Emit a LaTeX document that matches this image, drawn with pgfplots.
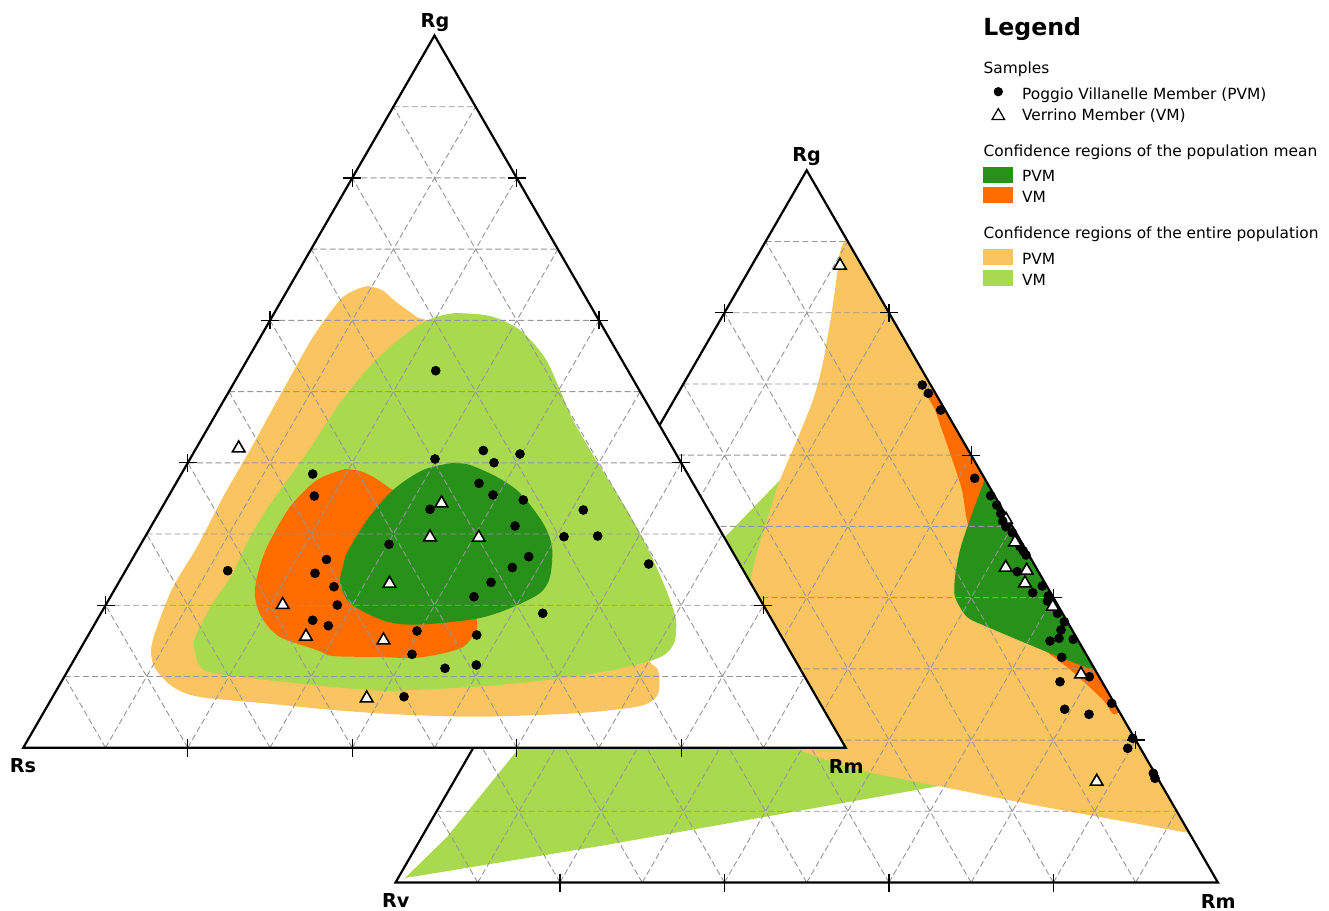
\documentclass[border=0pt]{standalone}
\usepackage{fontspec}
\setmainfont{DejaVu Sans}
\usepackage{pgfplots}
\pgfplotsset{compat=1.18}

\definecolor{pvmmean}{RGB}{40,145,25}
\definecolor{vmmean}{RGB}{255,108,0}
\definecolor{pvmpop}{RGB}{250,197,97}
\definecolor{vmpop}{RGB}{169,217,79}
\definecolor{gridc}{RGB}{150,150,150}

\newcommand{\lgf}{\fontsize{7.7}{9}\selectfont}
\newcommand{\vlf}{\fontsize{9.6}{11}\selectfont\bfseries}

% ternary grid (10 divisions) of a triangle of side 822.4 px, shifted by (#1,#2)
\newcommand{\TriGrid}[2]{%
\addplot[gridc, line width=0.45pt, dash pattern=on 3pt off 1.6pt, unbounded coords=jump,
  x filter/.expression={x+#1}, y filter/.expression={y+#2}] coordinates {
(64.42,676.48) (804.58,676.48) (nan,nan)
(105.54,605.26) (763.46,605.26) (nan,nan)
(146.66,534.04) (722.34,534.04) (nan,nan)
(187.78,462.82) (681.22,462.82) (nan,nan)
(228.9,391.6) (640.1,391.6) (nan,nan)
(270.02,320.38) (598.98,320.38) (nan,nan)
(311.14,249.16) (557.86,249.16) (nan,nan)
(352.26,177.94) (516.74,177.94) (nan,nan)
(393.38,106.72) (475.62,106.72) (nan,nan)
(105.54,747.7) (475.62,106.72) (nan,nan)
(187.78,747.7) (516.74,177.94) (nan,nan)
(270.02,747.7) (557.86,249.16) (nan,nan)
(352.26,747.7) (598.98,320.38) (nan,nan)
(434.5,747.7) (640.1,391.6) (nan,nan)
(516.74,747.7) (681.22,462.82) (nan,nan)
(598.98,747.7) (722.34,534.04) (nan,nan)
(681.22,747.7) (763.46,605.26) (nan,nan)
(763.46,747.7) (804.58,676.48) (nan,nan)
(105.54,747.7) (64.42,676.48) (nan,nan)
(187.78,747.7) (105.54,605.26) (nan,nan)
(270.02,747.7) (146.66,534.04) (nan,nan)
(352.26,747.7) (187.78,462.82) (nan,nan)
(434.5,747.7) (228.9,391.6) (nan,nan)
(516.74,747.7) (270.02,320.38) (nan,nan)
(598.98,747.7) (311.14,249.16) (nan,nan)
(681.22,747.7) (352.26,177.94) (nan,nan)
(763.46,747.7) (393.38,106.72)
};}

\newcommand{\TriFill}[2]{%
\addplot[fill=white, draw=none, x filter/.expression={x+#1}, y filter/.expression={y+#2}]
  coordinates {(23.3,747.7) (845.7,747.7) (434.5,35.5)} -- cycle;}

\newcommand{\TriFrame}[2]{%
\addplot[black, line width=1.1pt, x filter/.expression={x+#1}, y filter/.expression={y+#2}]
  coordinates {(23.3,747.7) (845.7,747.7) (434.5,35.5)} -- cycle;}

\pgfplotsset{
  dots/.style={only marks, black, mark=*, mark size=2.2pt},
  tris/.style={only marks, mark=triangle*, mark size=3.6pt,
     mark options={fill=white, draw=black, line width=0.8pt}},
  ticks/.style={only marks, black, mark=+, mark size=4.5pt, mark options={line width=0.6pt}},
}

\begin{document}
\begin{tikzpicture}
\begin{axis}[width=664.5pt, height=455.5pt, scale only axis,
  xmin=0, xmax=1329, ymin=0, ymax=911, y dir=reverse,
  hide axis, clip=false]
\path (axis cs:0,0) rectangle (axis cs:1329,911);

% ================= right triangle (Rv - Rm - Rg) =================
\TriFill{372.2}{134.8}
% VM entire population
\addplot[fill=vmpop, draw=none] coordinates {
(405,878) (447,837) (520,747) (600,665) (725,537) (782,478) (800,468)
(900,600) (950,784) (860,800) (600,846) (405,878)} -- cycle;
% PVM entire population
\addplot[fill=pvmpop, draw=none, smooth, tension=0.4] coordinates {
(845.8,238) (840,252) (835,290) (830,323) (822,367) (813,400) (797,440)
(780,480) (767,520) (755,560) (750,587) (752,620) (770,700) (790,745)
(800,750) (827,760) (873,773) (943,787) (1050,808) (1189.3,833)} -- cycle;
% VM mean
\addplot[fill=vmmean, draw=none, smooth, tension=0.4] coordinates {
(932.4,388) (926.7,394) (935,410) (942,430) (950,453) (962,490) (968,525)
(985,570) (1010,625) (1047,652) (1073,672) (1103,700) (1113,714) (1119.5,712)} -- cycle;
% PVM mean
\addplot[fill=pvmmean, draw=none, smooth, tension=0.4] coordinates {
(984.9,479) (968,525) (960,550) (955,577) (955,597) (967,617) (990,628)
(1047,652) (1095.7,671)} -- cycle;
\TriGrid{372.2}{134.8}
\TriFrame{372.2}{134.8}
% visible ticks of the right triangle
\addplot[ticks] coordinates {
(559.98,882.5) (724.46,882.5) (888.94,882.5) (1053.42,882.5)
(724.46,312.74)
(1135.66,740.06) (1053.42,597.62) (971.18,455.18) (888.94,312.74)};
\addplot[tris] coordinates {(1006,519.5)};
\addplot[dots] coordinates {
(922.3,385) (928.3,393.3) (940.7,410) (974.7,478.3) (990.7,495.7) (996.7,505)
(1000.7,513.3) (1002.7,521) (1006,526.7) (1012.3,532.7) (1020,546.7) (1023.3,551)
(1026,555) (1017.3,571.7) (1032.7,592.7) (1042.3,586) (1048.3,596) (1047.5,601)
(1057.5,613.3) (1064.3,621.7) (1061,630) (1059,638.3) (1050,641) (1073.3,639.3)
(1061.7,657.3) (1089.3,676.7) (1060,681.7) (1111.7,703.3) (1064.7,709.3)
(1089,714.3) (1132.7,738.3) (1127.7,748.3) (1153.3,773.3) (1155,778.3)};
\addplot[tris] coordinates {
(840,265.5) (1015,542.2) (1005.7,567.5) (1026.7,570.5) (1025,583.2)
(1052.7,606.5) (1081,674.2) (1096.7,781.5)};

% ================= left triangle (Rs - Rm - Rg) =================
\TriFill{0}{0}
% PVM entire population
\addplot[fill=pvmpop, draw=none, smooth, tension=0.5] coordinates {
(368,286) (382,290) (395,301) (417,317) (440,332) (550,450) (640,640) (650,662)
(657,668) (659.5,680) (657,696) (640,706) (580,713) (480,716.7) (400,714.5)
(333,710) (267,703.5) (200,697) (173,687) (155,668) (151,650) (157,627)
(173,587) (197,547) (223,497) (250,450) (283,390) (313,337) (340,300) (355,290)
(368,286)} -- cycle;
% VM entire population
\addplot[fill=vmpop, draw=none, smooth, tension=0.5] coordinates {
(455,313) (490,316) (520,330) (545,358) (560,390) (573,420) (593,455) (613,487)
(631,517) (647,547) (660,575) (670,600) (676,620) (675,640) (668,652) (653,660)
(613,670) (547,680) (480,686.5) (413,690) (380,690.7) (333,687) (267,680)
(213,673) (199,665) (194,643) (200,627) (213,603) (233,573) (250,537) (273,500)
(307,453) (340,403) (373,363) (407,333) (433,318) (455,313)} -- cycle;
% VM mean
\addplot[fill=vmmean, draw=none, smooth, tension=0.5] coordinates {
(345,469) (360,471) (375,478) (393,490) (420,502) (470,600) (477,622) (475,633)
(463,647) (440,654) (413,658) (380,657) (333,656) (317,650) (280,637) (262,618)
(255,597) (257,577) (267,547) (290,507) (317,480) (345,469)} -- cycle;
% PVM mean
\addplot[fill=pvmmean, draw=none, smooth, tension=0.5] coordinates {
(453,462.7) (470,465) (497,477) (520,493) (543,523) (552,547) (550,577) (540,593)
(513,607) (480,618) (430,624) (400,624) (377,618) (350,603) (340,583) (343,567)
(347,553) (367,520) (393,490) (423,470) (453,462.7)} -- cycle;
\TriGrid{0}{0}
\TriFrame{0}{0}
\addplot[ticks] coordinates {
(187.78,747.7) (352.26,747.7) (516.74,747.7) (681.22,747.7)
(105.54,605.26) (187.78,462.82) (270.02,320.38) (352.26,177.94)
(763.46,605.26) (681.22,462.82) (598.98,320.38) (516.74,177.94)};
\addplot[dots] coordinates {
(435.7,370.7) (483.3,450.5) (494,462.7) (520,454) (435,459) (312.7,474)
(314.3,496) (479,483.3) (493,495) (523.3,500) (430,509.3) (583.3,510) (515,526)
(564,536.7) (597.7,536) (389,544.3) (528.7,556.7) (512.3,567.5) (648.7,564)
(491,582.3) (474,596.7) (542.7,613.3) (417,631) (476.7,635) (412,654.3)
(445,668.3) (476.3,665) (404,696.7) (326.5,559.5) (315,573.3) (227.7,570.7)
(334,586.7) (337.3,605) (312.7,620.3) (328.3,625.7)};
\addplot[tris] coordinates {
(238.7,448.2) (441.5,503.2) (430,537.2) (478.7,537.5) (389.5,583.5)
(282.7,604.8) (306,636.5) (383.5,640.2) (366.7,698.2)};

% ================= vertex labels =================
\node[font=\vlf, anchor=base, inner sep=0pt] at (axis cs:435,27.3) {Rg};
\node[font=\vlf, anchor=base, inner sep=0pt] at (axis cs:23,772.3) {Rs};
\node[font=\vlf, anchor=base, inner sep=0pt] at (axis cs:846.3,773.3) {Rm};
\node[font=\vlf, anchor=base, inner sep=0pt] at (axis cs:806.7,161.7) {Rg};
\node[font=\vlf, anchor=base, inner sep=0pt] at (axis cs:395.8,907.7) {Rv};
\node[font=\vlf, anchor=base, inner sep=0pt] at (axis cs:1218.3,908.3) {Rm};

% ================= legend =================
\node[font=\fontsize{11.8}{14}\selectfont\bfseries, anchor=base west, inner sep=0pt] at (axis cs:983,35) {Legend};
\node[font=\lgf, anchor=base west, inner sep=0pt] at (axis cs:983.3,73.3) {Samples};
\addplot[only marks, black, mark=*, mark size=2.1pt] coordinates {(998.3,91.7)};
\node[font=\lgf, anchor=base west, inner sep=0pt] at (axis cs:1021.7,99.3) {Poggio Villanelle Member (PVM)};
\addplot[only marks, mark=triangle, mark size=3.6pt, mark options={draw=black, line width=0.6pt}] coordinates {(998.3,115.8)};
\node[font=\lgf, anchor=base west, inner sep=0pt] at (axis cs:1021.7,120) {Verrino Member (VM)};
\node[font=\lgf, anchor=base west, inner sep=0pt] at (axis cs:983.3,156.7) {Confidence regions of the population mean};
\fill[pvmmean] (axis cs:983.3,166.7) rectangle (axis cs:1012.7,182.7);
\node[font=\lgf, anchor=base west, inner sep=0pt] at (axis cs:1021.7,181.7) {PVM};
\fill[vmmean] (axis cs:983.3,187.3) rectangle (axis cs:1012.7,203.3);
\node[font=\lgf, anchor=base west, inner sep=0pt] at (axis cs:1021.7,202.3) {VM};
\node[font=\lgf, anchor=base west, inner sep=0pt] at (axis cs:983.3,238.3) {Confidence regions of the entire population};
\fill[pvmpop] (axis cs:983.3,249.3) rectangle (axis cs:1012.7,265.3);
\node[font=\lgf, anchor=base west, inner sep=0pt] at (axis cs:1021.7,264) {PVM};
\fill[vmpop] (axis cs:983.3,270) rectangle (axis cs:1012.7,286);
\node[font=\lgf, anchor=base west, inner sep=0pt] at (axis cs:1021.7,285) {VM};
\end{axis}
\end{tikzpicture}
\end{document}
